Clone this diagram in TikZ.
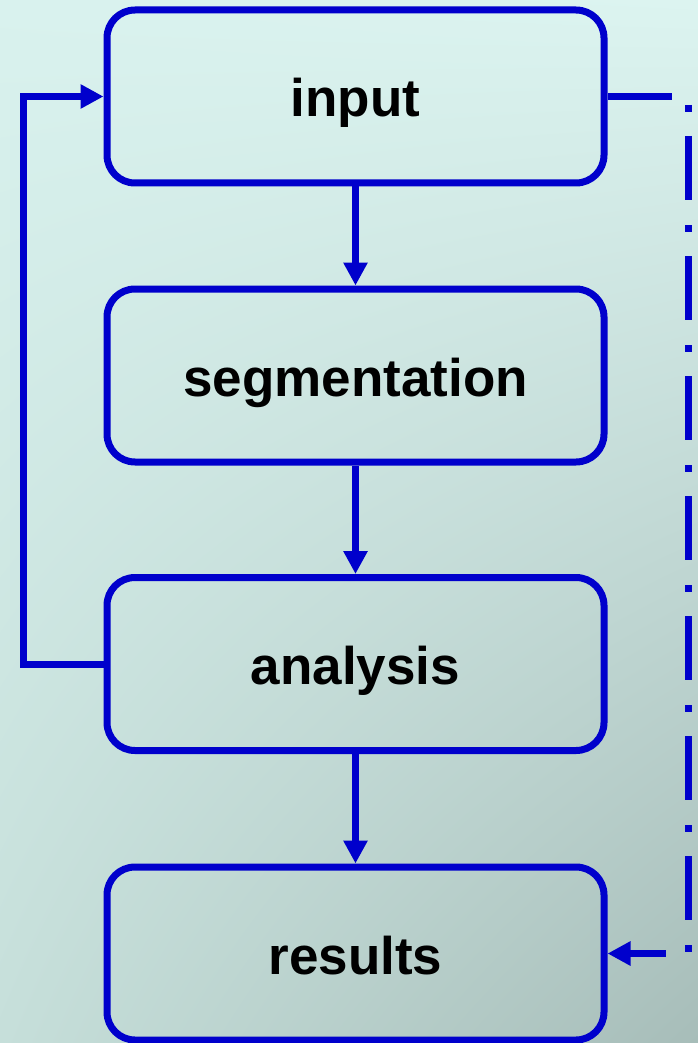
\documentclass[tikz,border=0pt]{standalone}
\usepackage{fontspec}
\setmainfont{Liberation Sans}
\usetikzlibrary{arrows.meta,shadings}
\definecolor{flowblue}{RGB}{0,0,204}
\definecolor{bgUL}{HTML}{D9F2EE}
\definecolor{bgUR}{HTML}{DCF4F0}
\definecolor{bgLL}{HTML}{C6DFDA}
\definecolor{bgLR}{HTML}{A7BDB9}
\tikzset{
  stage/.style={draw=flowblue, line width=7pt, rounded corners=28pt,
    rectangle, minimum width=497pt, minimum height=173pt,
    text height=41pt, text depth=0pt,
    font=\fontsize{53}{60}\selectfont\bfseries, text=black},
  flow/.style={draw=flowblue, line width=7pt,
    -{Triangle[length=23pt,width=23pt]}},
  dashdot/.style={dash pattern=on 64pt off 25pt on 7pt off 24pt}
}
\begin{document}
\begin{tikzpicture}[x=1pt, y=-1pt]
  % background
  \shade[upper left=bgUL, upper right=bgUR, lower left=bgLL, lower right=bgLR]
    (0,0) rectangle (698,1043);
  \useasboundingbox (0,0) rectangle (698,1043);

  % processing stages
  \node[stage] (input) at (355.5,96.5) {input};
  \node[stage] (seg)   at (355.5,375.5) {segmentation};
  \node[stage] (ana)   at (355.5,664) {analysis};
  \node[stage] (res)   at (355.5,953.5) {results};

  % columns for the side connectors
  \coordinate (lx) at (23,0);
  \coordinate (rx) at (688,0);

  % main flow
  \draw[flow] (input) -- (seg);
  \draw[flow] (seg) -- (ana);
  \draw[flow] (ana) -- (res);

  % feedback loop
  \draw[flow] (ana.west) -- (ana.west -| lx) -- (input.west -| lx) -- (input.west);

  % direct path to results
  \draw[flow, dashdot] (input.east) -- (input.east -| rx) -- (res.east -| rx) -- (res.east);
\end{tikzpicture}
\end{document}
